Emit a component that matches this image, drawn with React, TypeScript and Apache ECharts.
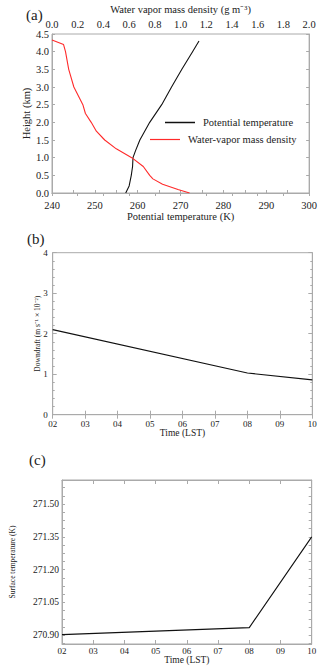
import React, { useEffect, useRef } from "react";
import * as echarts from "echarts";

// Panel (a): vertical profiles
const thetaHeights = [0, 0.1, 0.2, 0.5, 0.75, 1.0, 1.2, 1.5, 2.0, 2.5, 3.0, 3.5, 4.0, 4.3];
const thetaValues = [257.2, 257.6, 258.0, 258.5, 258.8, 258.9, 259.5, 260.5, 262.8, 265.6, 267.9, 270.3, 272.8, 274.3];
const wvHeights = [0, 0.1, 0.25, 0.4, 0.5, 0.75, 1.0, 1.25, 1.5, 1.75, 2.0, 2.25, 2.5, 3.0, 3.5, 4.0, 4.2, 4.33];
const wvValues = [1.07, 0.98, 0.86, 0.785, 0.76, 0.71, 0.62, 0.5, 0.41, 0.345, 0.305, 0.26, 0.24, 0.17, 0.13, 0.105, 0.09, 0.0];

// Panel (b): downdraft
const timesB = [2, 8, 10];
const downdraft = [2.1, 1.03, 0.86];

// Panel (c): surface temperature
const timesC = [2, 8, 10];
const surfaceTemp = [270.903, 270.935, 271.35];
const surfTempLabels = [270.9, 271.05, 271.2, 271.35, 271.5];
const surfTempTicks = [270.8625, 270.9, 270.9375, 270.975, 271.0125, 271.05, 271.0875, 271.125, 271.1625, 271.2, 271.2375, 271.275, 271.3125, 271.35, 271.3875, 271.425, 271.4625, 271.5, 271.5375, 271.575];

const FONT = "Liberation Serif";
const FRAME = "#aaaaaa";
const TXT = "#222222";

export default function App() {
  const ref = useRef<HTMLDivElement>(null);
  useEffect(() => {
    if (!ref.current) return;
    const chart = echarts.init(ref.current, undefined, { renderer: "svg" });
    const hh = (v: number) => (v < 10 ? "0" + v : "" + v);
    const tickCommon = (len: number) => ({ show: true, inside: true, length: len, lineStyle: { color: FRAME, width: 1 } });
    const lineCommon = { show: true, lineStyle: { color: FRAME, width: 1 } };
    const grid = (left: number, right: number, top: number, height: number) => ({
      left, right, top, height, show: true, borderColor: FRAME, borderWidth: 1, backgroundColor: "transparent",
    });
    const legendText = { fontFamily: FONT, fontSize: 10.5, color: TXT, padding: [0, 0, 0, 3] };
    const panelTitle = { fontFamily: FONT, fontSize: 15, fontWeight: "normal", color: TXT };
    const option: any = {
      animation: false,
      textStyle: { fontFamily: FONT },
      grid: [grid(52, 10, 34, 159), grid(52.7, 7.7, 252.7, 162), grid(51.7, 8.3, 480, 164)],
      legend: [
        {
          data: ["Potential temperature"], left: 165, top: 117, padding: 0, icon: "rect",
          itemWidth: 30, itemHeight: 1.5, itemGap: 0, textStyle: legendText,
        },
        {
          data: ["Water-vapor mass density"], left: 150, top: 134, padding: 0, icon: "rect",
          itemWidth: 30, itemHeight: 1.2, itemGap: 0, textStyle: legendText,
        },
      ],
      title: [
        { text: "(a)", left: 21, top: 2, textStyle: panelTitle },
        { text: "(b)", left: 22, top: 226, textStyle: panelTitle },
        { text: "(c)", left: 24, top: 447, textStyle: panelTitle },
      ],
      xAxis: [
        {
          gridIndex: 0, type: "value", position: "bottom", min: 240, max: 300, interval: 10,
          name: "Potential temperature (K)", nameLocation: "middle", nameGap: 18, nameMoveOverlap: false,
          nameTextStyle: { fontFamily: FONT, fontSize: 10.5, color: TXT },
          axisLine: lineCommon, axisTick: tickCommon(3),
          minorTick: { show: true, splitNumber: 2, length: 3, lineStyle: { color: FRAME } },
          axisLabel: { fontFamily: FONT, fontSize: 10.5, color: TXT, margin: 7 },
          splitLine: { show: false },
        },
        {
          gridIndex: 0, type: "value", position: "top", min: 0, max: 2, interval: 0.2,
          name: "Water vapor mass density (g m⁻³)", nameLocation: "middle", nameGap: 19, nameMoveOverlap: false,
          nameTextStyle: { fontFamily: FONT, fontSize: 10.5, color: TXT },
          axisLine: lineCommon, axisTick: tickCommon(3),
          axisLabel: { fontFamily: FONT, fontSize: 10.5, color: TXT, margin: 4, formatter: (v: number) => v.toFixed(1) },
          splitLine: { show: false },
        },
        {
          gridIndex: 1, type: "value", position: "bottom", min: 2, max: 10, interval: 1,
          name: "Time (LST)", nameLocation: "middle", nameGap: 13, nameMoveOverlap: false,
          nameTextStyle: { fontFamily: FONT, fontSize: 9.5, color: TXT },
          axisLine: lineCommon, axisTick: tickCommon(4),
          axisLabel: { fontFamily: FONT, fontSize: 9, color: TXT, margin: 5, formatter: hh },
          splitLine: { show: false },
        },
        {
          gridIndex: 1, type: "value", position: "top", min: 2, max: 10, interval: 1,
          axisLine: lineCommon, axisTick: tickCommon(4), axisLabel: { show: false }, splitLine: { show: false },
        },
        {
          gridIndex: 2, type: "value", position: "bottom", min: 2, max: 10, interval: 1,
          name: "Time (LST)", nameLocation: "middle", nameGap: 11, nameMoveOverlap: false,
          nameTextStyle: { fontFamily: FONT, fontSize: 9.5, color: TXT },
          axisLine: lineCommon, axisTick: tickCommon(4),
          axisLabel: { fontFamily: FONT, fontSize: 9, color: TXT, margin: 2, formatter: hh },
          splitLine: { show: false },
        },
        {
          gridIndex: 2, type: "value", position: "top", min: 2, max: 10, interval: 1,
          axisLine: lineCommon, axisTick: tickCommon(4), axisLabel: { show: false }, splitLine: { show: false },
        },
      ],
      yAxis: [
        {
          gridIndex: 0, type: "value", position: "left", min: 0, max: 4.5, interval: 0.5,
          name: "Height (km)", nameLocation: "middle", nameGap: 20, nameMoveOverlap: false,
          nameTextStyle: { fontFamily: FONT, fontSize: 10.5, color: TXT },
          axisLine: lineCommon, axisTick: tickCommon(3),
          axisLabel: { fontFamily: FONT, fontSize: 10.5, color: TXT, margin: 3, formatter: (v: number) => v.toFixed(1) },
          splitLine: { show: false },
        },
        {
          gridIndex: 0, type: "value", position: "right", min: 0, max: 4.5, interval: 0.5,
          axisLine: lineCommon, axisTick: tickCommon(3), axisLabel: { show: false }, splitLine: { show: false },
        },
        {
          gridIndex: 1, type: "value", position: "left", min: 0, max: 4, interval: 1,
          name: "Downdraft (m s⁻¹ × 10⁻²)", nameLocation: "middle", nameGap: 11, nameMoveOverlap: false,
          nameTextStyle: { fontFamily: FONT, fontSize: 7.5, color: TXT },
          axisLine: lineCommon, axisTick: tickCommon(4),
          minorTick: { show: true, splitNumber: 5, length: 2, lineStyle: { color: FRAME } },
          axisLabel: { fontFamily: FONT, fontSize: 9, color: TXT, margin: 5 },
          splitLine: { show: false },
        },
        {
          gridIndex: 1, type: "value", position: "right", min: 0, max: 4, interval: 1,
          axisLine: lineCommon, axisTick: tickCommon(4),
          minorTick: { show: true, splitNumber: 5, length: 2, lineStyle: { color: FRAME } },
          axisLabel: { show: false }, splitLine: { show: false },
        },
        {
          gridIndex: 2, type: "value", position: "left", min: 270.86, max: 271.61,
          name: "Surface temperature (K)", nameLocation: "middle", nameGap: 46, nameMoveOverlap: false,
          nameTextStyle: { fontFamily: FONT, fontSize: 7.5, color: TXT },
          axisLine: lineCommon,
          axisTick: { ...tickCommon(3), customValues: surfTempTicks },
          axisLabel: { fontFamily: FONT, fontSize: 9.5, color: TXT, margin: 3, customValues: surfTempLabels, formatter: (v: number) => v.toFixed(2) },
          splitLine: { show: false },
        },
        {
          gridIndex: 2, type: "value", position: "right", min: 270.86, max: 271.61,
          axisLine: lineCommon,
          axisTick: { ...tickCommon(3), customValues: surfTempTicks },
          axisLabel: { show: false }, splitLine: { show: false },
        },
      ],
      series: [
        {
          name: "Potential temperature", type: "line", xAxisIndex: 0, yAxisIndex: 0, symbol: "none", smooth: false,
          lineStyle: { color: "#111111", width: 1.1 }, itemStyle: { color: "#111111" },
          data: thetaValues.map((t, i) => [t, thetaHeights[i]]),
        },
        {
          name: "Water-vapor mass density", type: "line", xAxisIndex: 1, yAxisIndex: 0, symbol: "none", smooth: false,
          lineStyle: { color: "#ff2a2a", width: 1.1 }, itemStyle: { color: "#ff2a2a" },
          data: wvValues.map((w, i) => [w, wvHeights[i]]),
        },
        {
          name: "Downdraft", type: "line", xAxisIndex: 2, yAxisIndex: 2, symbol: "none",
          lineStyle: { color: "#111111", width: 1.1 },
          data: downdraft.map((d, i) => [timesB[i], d]),
        },
        {
          name: "Surface temperature", type: "line", xAxisIndex: 4, yAxisIndex: 4, symbol: "none",
          lineStyle: { color: "#111111", width: 1.1 },
          data: surfaceTemp.map((s, i) => [timesC[i], s]),
        },
      ],
    };
    chart.setOption(option);
    return () => chart.dispose();
  }, []);
  return <div ref={ref} style={{ position: "absolute", left: 0, top: 0, width: 320, height: 668 }} />;
}
